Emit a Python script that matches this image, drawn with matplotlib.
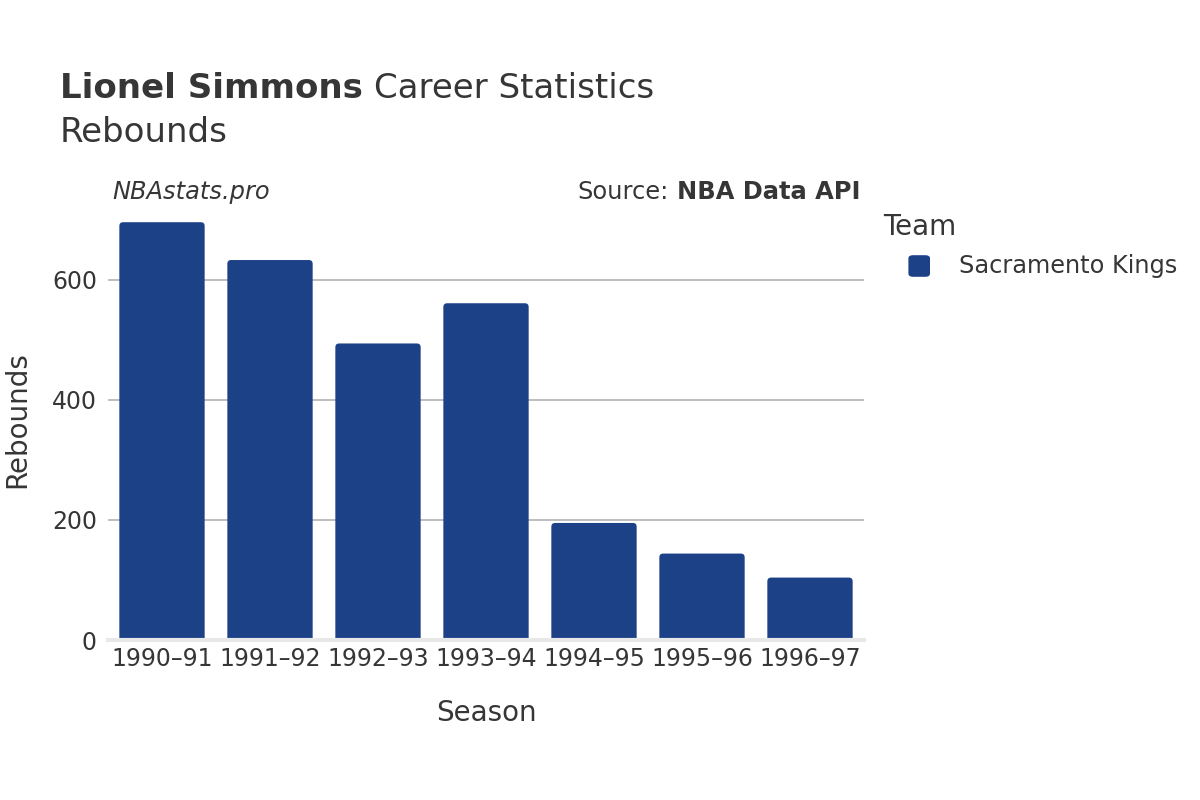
import matplotlib.pyplot as plt
from matplotlib.patches import FancyBboxPatch

seasons = ['1990–91', '1991–92', '1992–93', '1993–94', '1994–95', '1995–96', '1996–97']
rebounds = [696, 633, 494, 561, 195, 144, 104]
team = 'Sacramento Kings'
bar_color = '#1c4187'
text_color = '#363636'

fig = plt.figure(figsize=(12, 8), dpi=100)
ax = fig.add_axes([0.09, 0.2, 0.63, 0.55])

ax.set_xlim(-0.5, len(seasons) - 0.5)
ax.set_ylim(0, 733)

# rounded bars, in data units (x: 108 px/unit, y: 0.6 px/unit)
aspect = (1 / 0.6) / (1 / 108)
for i, v in enumerate(rebounds):
    p = FancyBboxPatch((i - 0.395, -20), 0.79, v + 20,
                       boxstyle='round,pad=0,rounding_size=0.035',
                       mutation_aspect=aspect, facecolor=bar_color,
                       edgecolor='none', zorder=3, clip_on=True)
    ax.add_patch(p)

for y in [200, 400, 600]:
    ax.axhline(y, color='#b3b3b3', lw=1.2, zorder=1)
ax.axhline(0, color='#e8e8e8', lw=3, zorder=4, clip_on=False)

for s in ax.spines.values():
    s.set_visible(False)
ax.set_xticks(range(len(seasons)))
ax.set_xticklabels(seasons)
ax.set_yticks([0, 200, 400, 600])
ax.tick_params(axis='both', length=0, labelsize=17, labelcolor=text_color)
ax.tick_params(axis='x', pad=5)
ax.tick_params(axis='y', pad=8)

ax.set_xlabel('Season', fontsize=20, color=text_color, labelpad=20)
fig.text(0.003, 0.475, 'Rebounds', rotation=90, fontsize=20, color=text_color,
         ha='left', va='center')

renderer = fig.canvas.get_renderer()
inv = fig.transFigure.inverted()

t1 = fig.text(0.05, 0.889, 'Lionel Simmons', fontsize=24.5, fontweight='bold',
              color=text_color, va='center')
x_end = inv.transform(t1.get_window_extent(renderer).get_points())[1][0]
fig.text(x_end + 0.009, 0.889, 'Career Statistics', fontsize=24.5,
         color=text_color, va='center')
fig.text(0.05, 0.834, 'Rebounds', fontsize=24.5, color=text_color, va='center')

fig.text(0.094, 0.76, 'NBAstats.pro', fontsize=17.4, style='italic',
         color=text_color, va='center')
t2 = fig.text(0.717, 0.76, 'NBA Data API', fontsize=17.4, fontweight='bold',
              color=text_color, va='center', ha='right')
x_start = inv.transform(t2.get_window_extent(renderer).get_points())[0][0]
fig.text(x_start - 0.007, 0.76, 'Source:', fontsize=17.4, color=text_color,
         va='center', ha='right')

fig.text(0.736, 0.716, 'Team', fontsize=20, color=text_color, va='center')
fig.patches.append(FancyBboxPatch((0.757, 0.654), 0.018, 0.027,
                                  boxstyle='round,pad=0,rounding_size=0.004',
                                  transform=fig.transFigure, facecolor=bar_color,
                                  edgecolor='none', figure=fig))
fig.text(0.799, 0.667, team, fontsize=17.3, color=text_color, va='center')

fig.savefig('out.png', dpi=100)
